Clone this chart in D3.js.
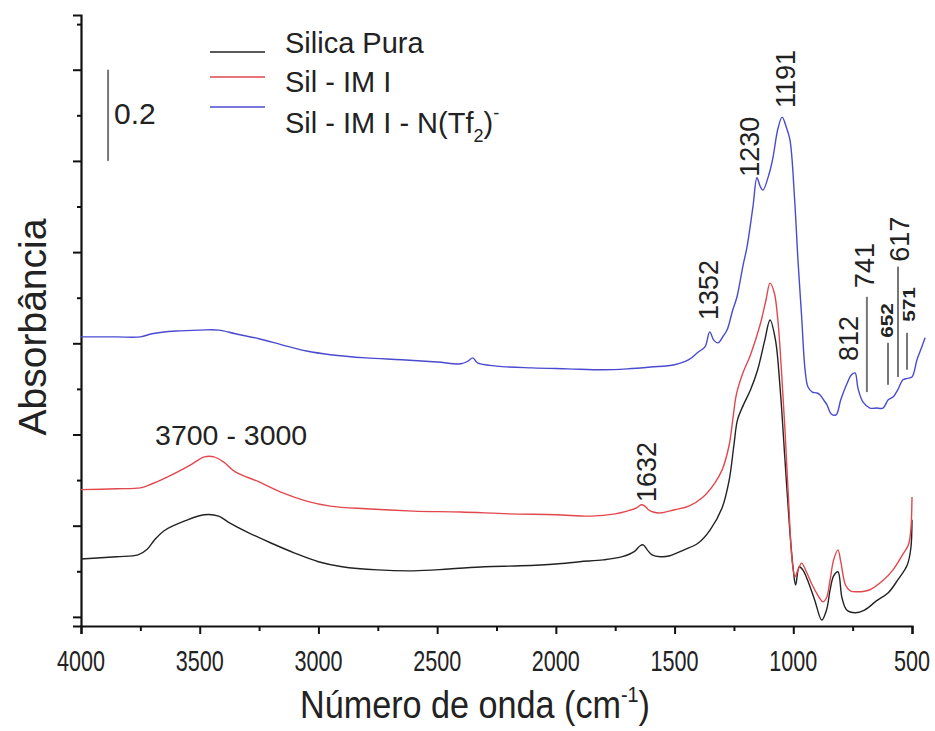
<!DOCTYPE html>
<html>
<head>
<meta charset="utf-8">
<script src="https://cdn.jsdelivr.net/npm/d3@7"></script>
<style>
  body { margin: 0; background: #fff; }
  text { font-family: "Liberation Sans", Arial, sans-serif; fill: #222; }
</style>
</head>
<body>
<div class="chart"></div>
<script>
var width = 935,
    height = 731;

// [wavenumber cm-1, absorbance]
var silicaPura = [
  [4000,0.127],[3850,0.132],[3760,0.136],[3720,0.149],[3690,0.169],[3650,0.189],
  [3560,0.211],[3480,0.224],[3420,0.221],[3380,0.208],[3300,0.186],[3200,0.162],
  [3100,0.140],[3000,0.121],[2900,0.110],[2750,0.103],[2600,0.101],[2450,0.105],
  [2300,0.110],[2150,0.112],[2000,0.116],[1900,0.121],[1800,0.125],[1720,0.132],
  [1670,0.143],[1645,0.156],[1632,0.158],[1615,0.147],[1595,0.136],[1560,0.132],
  [1520,0.134],[1460,0.147],[1400,0.162],[1350,0.191],[1300,0.239],[1270,0.300],
  [1250,0.377],[1235,0.432],[1210,0.465],[1180,0.498],[1150,0.542],[1120,0.607],
  [1098,0.651],[1075,0.607],[1055,0.498],[1035,0.344],[1015,0.191],[1000,0.103],
  [990,0.070],[975,0.110],[960,0.103],[940,0.081],[910,0.037],[880,-0.007],
  [860,0.015],[845,0.059],[830,0.090],[812,0.099],[795,0.042],[775,0.015],
  [740,0.009],[700,0.015],[650,0.035],[600,0.053],[560,0.081],[520,0.114],
  [505,0.150],[500,0.213]
];

var silIMI = [
  [4000,0.279],[3850,0.281],[3750,0.283],[3700,0.292],[3620,0.311],[3540,0.333],
  [3480,0.351],[3440,0.351],[3400,0.340],[3350,0.318],[3250,0.296],[3150,0.272],
  [3050,0.254],[2950,0.243],[2800,0.237],[2600,0.232],[2400,0.230],[2200,0.226],
  [2000,0.224],[1850,0.221],[1750,0.226],[1700,0.232],[1660,0.239],[1640,0.246],
  [1625,0.243],[1610,0.235],[1590,0.230],[1560,0.228],[1500,0.235],[1440,0.243],
  [1380,0.263],[1330,0.294],[1300,0.322],[1270,0.377],[1255,0.432],[1240,0.487],
  [1215,0.531],[1180,0.575],[1140,0.640],[1115,0.695],[1098,0.732],[1080,0.711],
  [1065,0.651],[1050,0.542],[1035,0.410],[1020,0.257],[1005,0.125],[993,0.088],
  [980,0.103],[965,0.118],[945,0.099],[920,0.070],[890,0.042],[875,0.033],
  [860,0.042],[845,0.081],[830,0.125],[812,0.147],[800,0.121],[780,0.070],
  [760,0.057],[730,0.055],[680,0.059],[620,0.081],[580,0.103],[540,0.136],
  [515,0.158],[505,0.191],[500,0.263]
];

var silIMITf2 = [
  [4000,0.614],[3850,0.614],[3750,0.614],[3700,0.621],[3600,0.627],[3500,0.629],
  [3420,0.629],[3350,0.621],[3250,0.610],[3150,0.596],[3050,0.583],[2950,0.575],
  [2800,0.568],[2650,0.564],[2500,0.559],[2400,0.555],[2370,0.561],[2350,0.568],
  [2330,0.557],[2250,0.550],[2100,0.546],[1950,0.544],[1800,0.542],[1700,0.544],
  [1600,0.548],[1500,0.553],[1440,0.564],[1400,0.581],[1372,0.592],[1352,0.625],
  [1335,0.607],[1317,0.601],[1295,0.616],[1279,0.629],[1255,0.673],[1237,0.702],
  [1212,0.770],[1195,0.811],[1170,0.899],[1153,0.963],[1140,0.945],[1128,0.936],
  [1100,0.975],[1085,1.009],[1065,1.070],[1047,1.096],[1030,1.075],[1014,1.046],
  [995,0.921],[980,0.780],[965,0.660],[950,0.540],[938,0.504],[920,0.493],
  [900,0.491],[888,0.487],[870,0.474],[858,0.465],[840,0.445],[820,0.443],
  [800,0.476],[775,0.510],[755,0.531],[740,0.535],[727,0.500],[706,0.471],
  [677,0.458],[650,0.458],[622,0.458],[600,0.476],[580,0.482],[560,0.498],
  [538,0.520],[520,0.523],[500,0.526],[479,0.564],[460,0.590],[445,0.612]
];

var seriesNames = ["Silica Pura", "Sil - IM I", "Sil - IM I - N(Tf"];
var seriesColors = ["#222222", "#e2474d", "#4a4ad0"];

var xTicks = [4000, 3500, 3000, 2500, 2000, 1500, 1000, 500];

// peak labels, [text, wavenumber, absorbance, big]
var peakLabels = [
  ["1632", 1578, 0.252, true],
  ["1352", 1317, 0.651, true],
  ["1230", 1144, 0.965, true],
  ["1191", 993, 1.116, true],
  ["812", 727, 0.561, true],
  ["741", 660, 0.721, true],
  ["617", 513, 0.779, true],
  ["652", 580, 0.612, false],
  ["571", 487, 0.647, false]
];
// marker lines [wavenumber, absorbance from, absorbance to]
var peakLines = [
  [690, 0.702, 0.493],
  [601, 0.601, 0.509],
  [559, 0.768, 0.526],
  [521, 0.623, 0.542]
];

var svg = d3.select(".chart")
  .append("svg")
    .attr("width", width)
    .attr("height", height);

var x = d3.scaleLinear().domain([4000, 500]).range([81, 912]);
var y = d3.scaleLinear().domain([-0.02, 1.32]).range([626, 15]);

// axes
var xAxis = d3.axisBottom(x)
  .tickValues(d3.range(4000, 499, -250))
  .tickSize(8)
  .tickFormat("");
var gx = svg.append("g").attr("transform", "translate(0,626)").call(xAxis);
gx.select(".domain").attr("stroke", "#111").attr("stroke-width", 2.2);
gx.selectAll(".tick line")
  .attr("stroke", "#111").attr("stroke-width", 2)
  .attr("y2", d => d % 500 === 0 ? 8 : 5);

var yAxis = d3.axisLeft(y)
  .tickValues(d3.range(0, 1.31, 0.1))
  .tickSize(8)
  .tickFormat("");
var gy = svg.append("g").attr("transform", "translate(81,0)").call(yAxis);
gy.select(".domain").attr("stroke", "#111").attr("stroke-width", 2.2);
gy.selectAll(".tick line")
  .attr("stroke", "#111").attr("stroke-width", 2)
  .attr("x2", (d, i) => i % 2 === 0 ? -8 : -4);

svg.selectAll(".xlab")
  .data(xTicks)
  .enter()
  .append("text")
  .attr("transform", d => "translate(" + x(d) + ",671) scale(0.72,1)")
  .attr("text-anchor", "middle")
  .attr("font-size", 30)
  .text(d => d);

svg.append("text")
  .attr("transform", "translate(300,718) scale(0.9,1)")
  .attr("font-size", 38)
  .text("Número de onda (cm")
  .append("tspan").attr("font-size", 22).attr("dy", -16).text("-1")
  .select(function() { return this.parentNode; })
  .append("tspan").attr("font-size", 38).attr("dy", 16).text(")");

svg.append("text")
  .attr("transform", "translate(46,327) rotate(-90)")
  .attr("text-anchor", "middle")
  .attr("font-size", 39)
  .text("Absorbância");

// spectra
var line = d3.line()
  .x(d => x(d[0]))
  .y(d => y(d[1]))
  .curve(d3.curveCatmullRom.alpha(0.5));

svg.selectAll(".spectrum")
  .data([silicaPura, silIMI, silIMITf2])
  .enter()
  .append("path")
  .attr("fill", "none")
  .attr("stroke", (d, i) => seriesColors[i])
  .attr("stroke-width", 1.4)
  .attr("d", line);

// scale bar
svg.append("line")
  .attr("x1", x(3886)).attr("x2", x(3886))
  .attr("y1", y(1.2)).attr("y2", y(1.0))
  .attr("stroke", "#777").attr("stroke-width", 2);
svg.append("text")
  .attr("x", x(3861)).attr("y", y(1.081))
  .attr("font-size", 30)
  .text("0.2");

// legend
var legend = svg.append("g");
var legendLineY = [52, 77, 107],
    legendTextY = [53, 92, 133];
legend.selectAll("line")
  .data(seriesColors)
  .enter()
  .append("line")
  .attr("x1", 210).attr("x2", 265)
  .attr("y1", (d, i) => legendLineY[i]).attr("y2", (d, i) => legendLineY[i])
  .attr("stroke", d => d).attr("stroke-width", 1.6);
var lt = legend.selectAll("text")
  .data(seriesNames)
  .enter()
  .append("text")
  .attr("x", 285)
  .attr("y", (d, i) => legendTextY[i])
  .attr("font-size", 29)
  .text(d => d);
d3.select(lt.nodes()[2])
  .append("tspan").attr("font-size", 18).attr("dy", 9).text("2")
  .select(function() { return this.parentNode; })
  .append("tspan").attr("font-size", 29).attr("dy", -9).text(")")
  .select(function() { return this.parentNode; })
  .append("tspan").attr("font-size", 18).attr("dy", -14).text("-");

// band annotation
svg.append("text")
  .attr("x", x(3688)).attr("y", y(0.377))
  .attr("font-size", 28.5)
  .text("3700 - 3000");

svg.selectAll(".peak")
  .data(peakLabels)
  .enter()
  .append("text")
  .attr("transform", d => "translate(" + x(d[1]) + "," + y(d[2]) + ") rotate(-90)" + (d[3] ? "" : " scale(1.3,1)"))
  .attr("font-size", d => d[3] ? 27 : 16)
  .attr("font-weight", d => d[3] ? "normal" : "bold")
  .text(d => d[0]);

svg.selectAll(".peakline")
  .data(peakLines)
  .enter()
  .append("line")
  .attr("x1", d => x(d[0])).attr("x2", d => x(d[0]))
  .attr("y1", d => y(d[1])).attr("y2", d => y(d[2]))
  .attr("stroke", "#777").attr("stroke-width", 2);
</script>
</body>
</html>
